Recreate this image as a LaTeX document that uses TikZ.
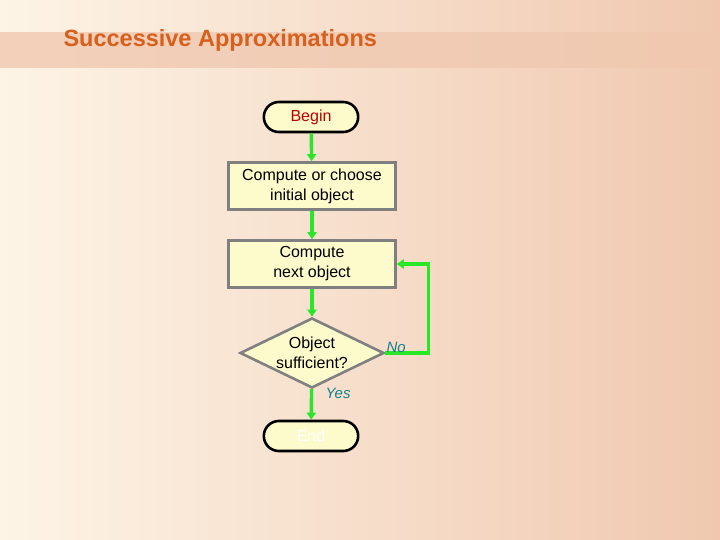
\documentclass[tikz,border=0pt]{standalone}
\usepackage{fontspec}
\setmainfont{Liberation Sans}
\usetikzlibrary{shapes.geometric,shapes.misc,arrows.meta}
\definecolor{peach}{RGB}{240,200,176}
\definecolor{cream}{RGB}{253,244,230}
\definecolor{boxfill}{RGB}{253,251,204}
\definecolor{flowgreen}{RGB}{40,230,40}
\definecolor{titleorange}{RGB}{214,96,28}
\definecolor{labelteal}{RGB}{20,130,140}
\tikzset{
  term/.style={rounded rectangle,draw=black,line width=2.6pt,fill=boxfill,minimum width=101pt,minimum height=30pt,font=\fontsize{16}{19}\selectfont},
  proc/.style={rectangle,draw=gray,line width=2.6pt,fill=boxfill,minimum width=167pt,minimum height=47pt,align=center,font=\fontsize{16}{20}\selectfont},
  decide/.style={diamond,draw=gray,line width=2.6pt,fill=boxfill,aspect=2.05,inner sep=0pt,minimum width=144pt,minimum height=70pt,align=center,font=\fontsize{16}{20}\selectfont},
  flow/.style={draw=flowgreen,line width=3.4pt,-{Triangle[length=7pt,width=9pt]}},
  answer/.style={text=labelteal,font=\fontsize{15}{17}\selectfont\itshape}
}
\begin{document}
\begin{tikzpicture}[x=1pt,y=-1pt]
\shade[left color=cream,right color=peach] (0,0) rectangle (720,540);
\fill[peach,opacity=0.8] (0,32) rectangle (720,68);
\useasboundingbox (0,0) rectangle (720,540);

\coordinate (T) at (60,40);
\coordinate (A) at (311,117);
\coordinate (B) at (312,186);
\coordinate (C) at (312,264);
\coordinate (D) at (312,353);
\coordinate (E) at (311,436);

\node[anchor=west,text=titleorange,font=\fontsize{23.5}{28}\selectfont\bfseries] (T1) at (T) {Successive Approximations};

\node[term,text=red!75!black] (A1) at (A) {Begin};
\node[proc] (B1) at (B) {Compute or choose\\initial object};
\node[proc] (C1) at (C) {Compute\\next object};
\node[decide] (D1) at (D) {Object\\sufficient?};
\node[term,text=white] (E1) at (E) {End};

\draw[flow] (A1) -- (B1);
\draw[flow] (B1) -- (C1);
\draw[flow] (C1) -- (D1);
\draw[flow] (D1) -- (E1) node[pos=0.15,anchor=west,answer,xshift=9pt] {Yes};
\draw[flow] (D1.east) -- ++(43,0) coordinate (K) |- (C1.east);
\node[answer,anchor=south west,inner sep=1pt] (N1) at ([yshift=-1pt]D1.east) {No};

\end{tikzpicture}
\end{document}
